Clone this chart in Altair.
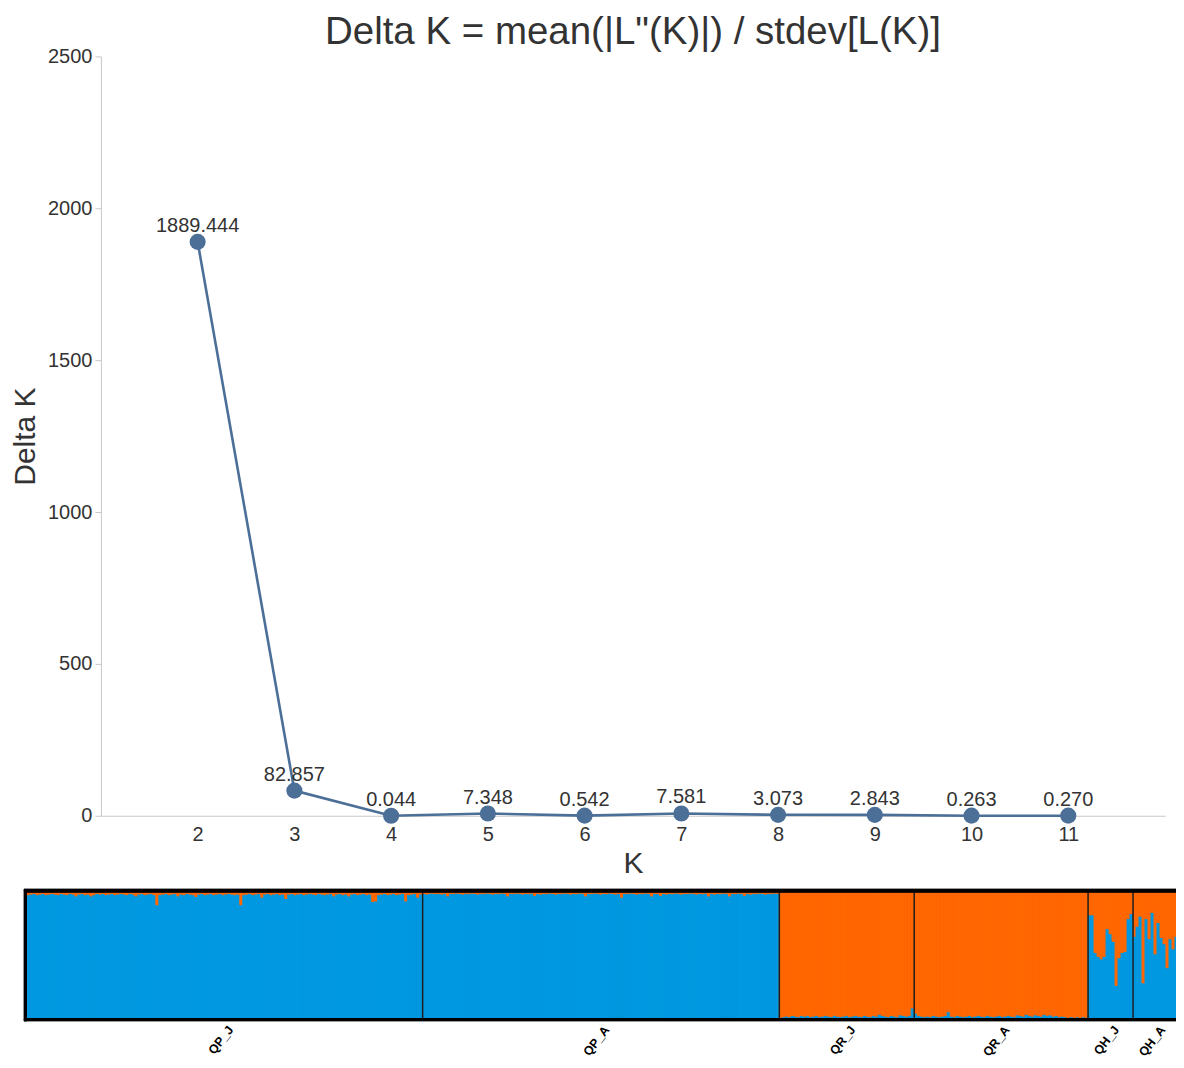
import altair as alt
import pandas as pd

# ---------------- Delta K data ----------------
k_values = [2, 3, 4, 5, 6, 7, 8, 9, 10, 11]
delta_k = [1889.444, 82.857, 0.044, 7.348, 0.542, 7.581, 3.073, 2.843, 0.263, 0.270]

# ---------------- STRUCTURE barplot data (K = 2) ----------------
groups = ["QP_J", "QP_A", "QR_J", "QR_A", "QH_J", "QH_A"]

qpj_orange = [
    0.02, 0.015, 0.01, 0.02, 0.015, 0.01, 0.02, 0.015, 0.01, 0.015, 0.02, 0.01,
    0.015, 0.02, 0.01, 0.015, 0.03, 0.015, 0.01, 0.02, 0.015, 0.03, 0.02, 0.01,
    0.015, 0.01, 0.02, 0.015, 0.01, 0.02, 0.015, 0.01, 0.015, 0.02, 0.01, 0.015,
    0.03, 0.015, 0.01, 0.02, 0.015, 0.01, 0.02, 0.10, 0.02, 0.015, 0.01, 0.02,
    0.015, 0.01, 0.03, 0.015, 0.02, 0.01, 0.015, 0.02, 0.035, 0.015, 0.01, 0.02,
    0.015, 0.01, 0.02, 0.015, 0.01, 0.02, 0.015, 0.01, 0.015, 0.02, 0.015, 0.10,
    0.02, 0.015, 0.01, 0.02, 0.015, 0.01, 0.04, 0.015, 0.01, 0.02, 0.015, 0.01,
    0.02, 0.015, 0.05, 0.015, 0.01, 0.02, 0.015, 0.01, 0.02, 0.015, 0.01, 0.015,
    0.02, 0.01, 0.015, 0.02, 0.015, 0.01, 0.03, 0.015, 0.01, 0.02, 0.015, 0.03,
    0.015, 0.01, 0.02, 0.015, 0.01, 0.02, 0.015, 0.075, 0.07, 0.02, 0.015, 0.01,
    0.02, 0.015, 0.01, 0.02, 0.015, 0.01, 0.07, 0.02, 0.015, 0.01, 0.04, 0.015,
]
qpa_orange = [
    0.01, 0.015, 0.01, 0.008, 0.012, 0.01, 0.015, 0.01, 0.03, 0.01, 0.012, 0.008,
    0.01, 0.015, 0.01, 0.012, 0.008, 0.01, 0.015, 0.01, 0.012, 0.008, 0.01, 0.015,
    0.01, 0.012, 0.008, 0.01, 0.03, 0.01, 0.012, 0.008, 0.01, 0.015, 0.01, 0.012,
    0.008, 0.025, 0.01, 0.015, 0.01, 0.012, 0.008, 0.01, 0.015, 0.01, 0.012, 0.008,
    0.01, 0.015, 0.01, 0.012, 0.008, 0.01, 0.03, 0.01, 0.012, 0.008, 0.01, 0.015,
    0.01, 0.012, 0.008, 0.01, 0.015, 0.01, 0.04, 0.01, 0.012, 0.008, 0.01, 0.015,
    0.01, 0.012, 0.008, 0.01, 0.03, 0.01, 0.012, 0.025, 0.01, 0.015, 0.01, 0.012,
    0.008, 0.01, 0.015, 0.01, 0.012, 0.008, 0.01, 0.015, 0.01, 0.012, 0.008, 0.03,
    0.01, 0.015, 0.01, 0.012, 0.008, 0.01, 0.03, 0.01, 0.012, 0.008, 0.01, 0.025,
    0.01, 0.015, 0.01, 0.012, 0.008, 0.01, 0.015, 0.01, 0.012, 0.008, 0.01,
]
qrj_blue = [
    0.005, 0.01, 0.015, 0.01, 0.02, 0.015, 0.01, 0.02, 0.015, 0.02, 0.01, 0.015,
    0.02, 0.01, 0.015, 0.02, 0.015, 0.01, 0.02, 0.015, 0.01, 0.015, 0.02, 0.01,
    0.015, 0.02, 0.015, 0.01, 0.02, 0.015, 0.01, 0.02, 0.015, 0.03, 0.02, 0.015,
    0.01, 0.02, 0.015, 0.01, 0.025, 0.02, 0.015, 0.02, 0.08,
]
qra_blue = [
    0.04, 0.02, 0.015, 0.01, 0.015, 0.01, 0.02, 0.015, 0.01, 0.015, 0.02, 0.05,
    0.015, 0.01, 0.02, 0.015, 0.01, 0.015, 0.02, 0.01, 0.015, 0.02, 0.015, 0.01,
    0.02, 0.015, 0.01, 0.015, 0.02, 0.01, 0.015, 0.02, 0.015, 0.01, 0.025, 0.02,
    0.015, 0.03, 0.02, 0.015, 0.025, 0.02, 0.015, 0.03, 0.02, 0.025, 0.015, 0.02,
    0.01, 0.015, 0.01, 0.005, 0.01, 0.005, 0.01, 0.005, 0.01, 0.005,
]
qhj_blue = [0.82, 0.82, 0.52, 0.49, 0.47, 0.49, 0.71, 0.67, 0.61, 0.26, 0.48, 0.52, 0.53, 0.79, 0.83]
qha_blue = [0.65, 0.73, 0.81, 0.28, 0.79, 0.63, 0.84, 0.51, 0.76, 0.64, 0.59, 0.40, 0.63, 0.55, 0.65, 0.23]

BLUE = "#0098e0"
ORANGE = "#ff6600"
LINE = "#4c6f98"
FONT = "Liberation Sans"

# blue share per individual, by group
group_blue = [
    [1 - v for v in qpj_orange],
    [1 - v for v in qpa_orange],
    qrj_blue,
    qra_blue,
    qhj_blue,
    qha_blue,
]

rows, seps, labs = [], [], []
idx = 0
for g, blues in zip(groups, group_blue):
    start = idx
    for b in blues:
        rows.append({"i0": idx, "i1": idx + 1, "y0": 0.0, "y1": b, "cluster": "c1", "pop": g})
        rows.append({"i0": idx, "i1": idx + 1, "y0": b, "y1": 1.0, "cluster": "c2", "pop": g})
        idx += 1
    labs.append({"mid": (start + idx) / 2, "pop": g})
    if g != groups[-1]:
        seps.append({"b": idx})
n_total = idx

struct_df = pd.DataFrame(rows)
sep_df = pd.DataFrame(seps)
lab_df = pd.DataFrame(labs)

dk_df = pd.DataFrame({
    "K": k_values,
    "DeltaK": delta_k,
    "label": [f"{v:.3f}" for v in delta_k],
})

# ---------------- Top: Delta K line chart ----------------
base = alt.Chart(dk_df).encode(
    x=alt.X(
        "K:Q",
        scale=alt.Scale(domain=[1, 12], nice=False, zero=False),
        axis=alt.Axis(
            values=k_values, format="d", ticks=False, tickSize=0, labelPadding=9,
            labelFontSize=20, labelColor="#333", grid=False, domainColor="#c8c8c8",
            title="K", titleFontSize=30, titleFontWeight="normal", titleColor="#333",
            titlePadding=4,
        ),
    ),
    y=alt.Y(
        "DeltaK:Q",
        scale=alt.Scale(domain=[0, 2500], nice=False),
        axis=alt.Axis(
            values=[0, 500, 1000, 1500, 2000, 2500], format="d", tickSize=6,
            tickColor="#c8c8c8", labelPadding=3, labelFontSize=20, labelColor="#333",
            grid=False, domainColor="#c8c8c8", title="Delta K", titleFontSize=30,
            titleFontWeight="normal", titleColor="#333", titlePadding=7,
        ),
    ),
)
line = base.mark_line(color=LINE, strokeWidth=2.6)
pts = base.mark_circle(size=260, color=LINE, opacity=1)
vals = base.mark_text(dy=-10, baseline="alphabetic", fontSize=20, color="#333").encode(text="label:N")

top = alt.layer(line, pts, vals).properties(
    width=1065,
    height=760,
    title=alt.TitleParams(
        text="Delta K = mean(|L\"(K)|) / stdev[L(K)]",
        fontSize=38.5, fontWeight="normal", color="#333", anchor="middle", offset=-6.5,
    ),
)

# ---------------- Bottom: STRUCTURE barplot ----------------
W_B = 1081
H_B = 129
xs = alt.Scale(domain=[0, n_total], range=[-74, -74 + 3 * n_total], nice=False, zero=False)
ys = alt.Scale(domain=[0, 1], range=[127.5, 1.5], nice=False, zero=False)
cs = alt.Scale(domain=["c1", "c2"], range=[BLUE, ORANGE])


def frame(color, width):
    left = alt.Chart(lab_df).mark_rule(color=color, strokeWidth=width).encode(
        x=alt.value(-75.5), y=alt.value(-1.5), y2=alt.value(H_B + 1.5)
    )
    topr = alt.Chart(lab_df).mark_rule(color=color, strokeWidth=width).encode(
        x=alt.value(-77), x2=alt.value(W_B), y=alt.value(0)
    )
    botr = alt.Chart(lab_df).mark_rule(color=color, strokeWidth=width).encode(
        x=alt.value(-77), x2=alt.value(W_B), y=alt.value(H_B)
    )
    return [left, topr, botr]


bars = alt.Chart(struct_df).mark_rect(strokeWidth=1).encode(
    x=alt.X("i0:Q", scale=xs, axis=None),
    x2="i1:Q",
    y=alt.Y("y0:Q", scale=ys, axis=None),
    y2="y1:Q",
    color=alt.Color("cluster:N", scale=cs, legend=None),
    stroke=alt.Stroke("cluster:N", scale=cs, legend=None),
)

sep_rules = alt.Chart(sep_df).mark_rule(color="#1e1e1e", strokeWidth=1.5).encode(
    x=alt.X("b:Q", scale=xs, axis=None), y=alt.value(1.5), y2=alt.value(127.5)
)

pop_labels = alt.Chart(lab_df).mark_text(
    angle=308, align="right", baseline="middle", fontSize=12.5, fontWeight="bold",
    color="black", xOffset=6,
).encode(
    x=alt.X("mid:Q", scale=xs, axis=None),
    y=alt.value(137),
    text="pop:N",
)

bottom = alt.layer(
    *frame("#9a9a9a", 5), bars, sep_rules, *frame("black", 3), pop_labels
).properties(width=W_B, height=H_B)

chart = alt.vconcat(top, bottom, spacing=8).properties(
    padding={"left": 2, "top": 5, "right": -8, "bottom": 0}
).configure(font=FONT).configure_view(strokeWidth=0)

chart.save("out.html", embed_options={"renderer": "svg", "actions": False})
